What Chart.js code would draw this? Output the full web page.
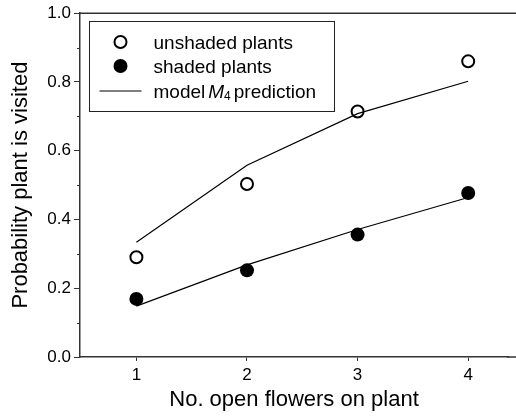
<!DOCTYPE html>
<html>
<head>
<meta charset="utf-8">
<script src="https://cdn.jsdelivr.net/npm/chart.js@4.4.1/dist/chart.umd.min.js"></script>
<style>
  body { margin: 0; overflow: hidden; background: #fff; }
  #chart { display: block; }
</style>
</head>
<body>
<canvas id="chart" width="516" height="417"></canvas>
<script>
// data
const flowers = [1, 2, 3, 4];
const unshaded = [0.29, 0.503, 0.714, 0.86];
const shaded = [0.169, 0.252, 0.356, 0.477];
const modelUnshaded = [0.334, 0.558, 0.708, 0.802];
const modelShaded = [0.148, 0.268, 0.371, 0.464];

const xTicks = [1, 2, 3, 4];
const yTicks = [0, 0.1, 0.2, 0.3, 0.4, 0.5, 0.6, 0.7, 0.8, 0.9, 1.0];
const yLabels = ['0.0', '', '0.2', '', '0.4', '', '0.6', '', '0.8', '', '1.0'];

const legendLabels = ['unshaded plants', 'shaded plants', 'model', 'M', '4', 'prediction'];

const fontFamily = "'Liberation Sans', Arial, Helvetica, sans-serif";
const axisColor = '#333';

Chart.defaults.font.family = fontFamily;
Chart.defaults.color = '#000';

function pts(ys) {
  return flowers.map((x, i) => ({ x: x, y: ys[i] }));
}

// top frame line, minor y ticks and the boxed legend
const extras = {
  id: 'extras',
  afterDraw(chart) {
    const ctx = chart.ctx;
    const a = chart.chartArea;
    const y = chart.scales.y;
    ctx.save();
    ctx.strokeStyle = axisColor;
    ctx.lineWidth = 1.5;
    ctx.beginPath();
    ctx.moveTo(a.left, a.top);
    ctx.lineTo(chart.width, a.top);
    // the figure is cropped, so the bottom axis runs to the edge too
    ctx.moveTo(a.right - 1, a.bottom);
    ctx.lineTo(chart.width, a.bottom);
    ctx.stroke();

    ctx.lineWidth = 1;
    ctx.beginPath();
    yTicks.forEach((v, i) => {
      if (yLabels[i] === '') {
        const py = Math.round(y.getPixelForValue(v)) + 0.5;
        ctx.moveTo(a.left - 3, py);
        ctx.lineTo(a.left, py);
      }
    });
    ctx.stroke();

    // legend
    const bx = Math.round(a.left + 9) + 0.5;
    const by = Math.round(a.top + 8) + 0.5;
    ctx.strokeStyle = '#222';
    ctx.lineWidth = 1;
    ctx.strokeRect(bx, by, 245, 90);
    const rows = [by + 20.5, by + 44.5, by + 69.5];
    const mx = bx + 31;
    const tx = bx + 64;

    ctx.beginPath();
    ctx.arc(mx, rows[0], 6, 0, Math.PI * 2);
    ctx.strokeStyle = '#000';
    ctx.lineWidth = 2;
    ctx.stroke();

    ctx.beginPath();
    ctx.arc(mx, rows[1], 7, 0, Math.PI * 2);
    ctx.fillStyle = '#000';
    ctx.fill();

    ctx.beginPath();
    ctx.lineWidth = 1.2;
    ctx.moveTo(bx + 10, rows[2]);
    ctx.lineTo(bx + 52, rows[2]);
    ctx.stroke();

    ctx.fillStyle = '#000';
    ctx.textBaseline = 'alphabetic';
    ctx.textAlign = 'left';
    ctx.font = '19px ' + fontFamily;
    ctx.fillText(legendLabels[0], tx, rows[0] + 7);
    ctx.fillText(legendLabels[1], tx, rows[1] + 7);
    ctx.fillText(legendLabels[2], tx, rows[2] + 7);
    let cx = tx + ctx.measureText(legendLabels[2]).width + 3;
    ctx.font = 'italic 19px ' + fontFamily;
    ctx.fillText(legendLabels[3], cx, rows[2] + 7);
    cx += ctx.measureText(legendLabels[3]).width;
    ctx.font = '12px ' + fontFamily;
    ctx.fillText(legendLabels[4], cx, rows[2] + 9);
    cx += ctx.measureText(legendLabels[4]).width + 3;
    ctx.font = '19px ' + fontFamily;
    ctx.fillText(legendLabels[5], cx, rows[2] + 7);
    ctx.restore();
  }
};

const chart = new Chart(document.getElementById('chart'), {
  type: 'scatter',
  data: {
    datasets: [
      {
        label: 'model unshaded',
        data: pts(modelUnshaded),
        showLine: true,
        borderColor: '#000',
        borderWidth: 1.2,
        pointRadius: 0,
        order: 1
      },
      {
        label: 'model shaded',
        data: pts(modelShaded),
        showLine: true,
        borderColor: '#000',
        borderWidth: 1.2,
        pointRadius: 0,
        order: 1
      },
      {
        label: 'unshaded plants',
        data: pts(unshaded),
        pointRadius: 6,
        pointBorderWidth: 2,
        pointBorderColor: '#000',
        pointBackgroundColor: 'rgba(0,0,0,0)',
        order: 2
      },
      {
        label: 'shaded plants',
        data: pts(shaded),
        pointRadius: 7,
        pointBorderWidth: 0,
        pointBackgroundColor: '#000',
        order: 2
      }
    ]
  },
  options: {
    responsive: false,
    animation: false,
    layout: { padding: { top: 11, right: 0, left: 0, bottom: 0 } },
    plugins: {
      legend: { display: false },
      tooltip: { enabled: false }
    },
    scales: {
      x: {
        type: 'linear',
        min: 0.49,
        max: 4.36,
        afterFit: s => { s.height = 60; },
        afterBuildTicks: s => { s.ticks = xTicks.map(v => ({ value: v })); },
        border: { display: true, color: axisColor, width: 1.5 },
        grid: { display: true, drawOnChartArea: false, drawTicks: true, tickLength: 4, tickColor: axisColor, tickWidth: 1 },
        ticks: { font: { size: 17 }, color: '#000', padding: 4, callback: v => String(v) },
        title: { display: true, text: 'No. open flowers on plant', font: { size: 22 }, color: '#000', padding: { top: 0, bottom: 4 } }
      },
      y: {
        type: 'linear',
        min: 0,
        max: 1,
        afterFit: s => { s.width = 80; },
        afterBuildTicks: s => { s.ticks = yTicks.map(v => ({ value: v })); },
        border: { display: true, color: axisColor, width: 1.5 },
        grid: {
          display: true, drawOnChartArea: false, drawTicks: true, tickLength: 6, tickWidth: 1,
          tickColor: c => (yLabels[c.index] === '' ? 'rgba(0,0,0,0)' : axisColor)
        },
        ticks: { font: { size: 17 }, color: '#000', padding: 3, callback: (v, i) => yLabels[i] },
        title: { display: true, text: 'Probability plant is visited', font: { size: 22 }, color: '#000', padding: { top: 8, bottom: 0 } }
      }
    }
  },
  plugins: [extras]
});
</script>
</body>
</html>
